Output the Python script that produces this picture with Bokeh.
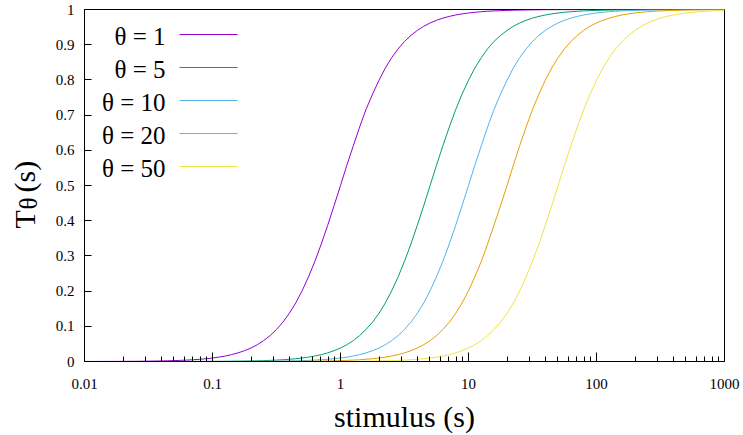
from bokeh.plotting import figure
from bokeh.layouts import row
from bokeh.models import (Range1d, FixedTicker, CustomJSTickFormatter, Label, Arrow)
from bokeh.embed import file_html
from bokeh.resources import INLINE
import math

# ---- data ----
stimulus = [0.01, 0.0112, 0.0126, 0.0141, 0.0158, 0.0178, 0.02, 0.0224, 0.0251, 0.0282,
            0.0316, 0.0355, 0.0398, 0.0447, 0.0501, 0.0562, 0.0631, 0.0708, 0.0794, 0.0891,
            0.1, 0.112, 0.126, 0.141, 0.158, 0.178, 0.2, 0.224, 0.251, 0.282,
            0.316, 0.355, 0.398, 0.447, 0.501, 0.562, 0.631, 0.708, 0.794, 0.891,
            1, 1.12, 1.26, 1.41, 1.58, 1.78, 2, 2.24, 2.51, 2.82,
            3.16, 3.55, 3.98, 4.47, 5.01, 5.62, 6.31, 7.08, 7.94, 8.91,
            10, 11.2, 12.6, 14.1, 15.8, 17.8, 20, 22.4, 25.1, 28.2,
            31.6, 35.5, 39.8, 44.7, 50.1, 56.2, 63.1, 70.8, 79.4, 89.1,
            100, 112, 126, 141, 158, 178, 200, 224, 251, 282,
            316, 355, 398, 447, 501, 562, 631, 708, 794, 891,
            1000]

t_theta1 = [0.0001, 0.0001, 0.0002, 0.0002, 0.0003, 0.0003, 0.0004, 0.0005, 0.0006, 0.0008,
            0.001, 0.0013, 0.0016, 0.002, 0.0025, 0.0032, 0.004, 0.005, 0.0063, 0.0079,
            0.0099, 0.0124, 0.0156, 0.0196, 0.0245, 0.0307, 0.0383, 0.0477, 0.0594, 0.0736,
            0.0909, 0.1118, 0.1368, 0.1663, 0.2008, 0.2403, 0.2847, 0.3339, 0.3869, 0.4427,
            0.5, 0.5573, 0.6131, 0.6661, 0.7153, 0.7597, 0.7992, 0.8337, 0.8632, 0.8882,
            0.9091, 0.9264, 0.9406, 0.9523, 0.9617, 0.9693, 0.9755, 0.9804, 0.9844, 0.9876,
            0.9901, 0.9921, 0.9937, 0.995, 0.996, 0.9968, 0.9975, 0.998, 0.9984, 0.9987,
            0.999, 0.9992, 0.9994, 0.9995, 0.9996, 0.9997, 0.9997, 0.9998, 0.9998, 0.9999,
            0.9999, 1, 1, 1, 1, 1, 1, 1, 1, 1,
            1, 1, 1, 1, 1, 1, 1, 1, 1, 1,
            1]

t_theta5 = [0, 0, 0, 0, 0, 0, 0, 0, 0, 0,
            0, 0, 0, 0, 0.0001, 0.0001, 0.0002, 0.0002, 0.0003, 0.0003,
            0.0004, 0.0005, 0.0006, 0.0008, 0.001, 0.0013, 0.0016, 0.002, 0.0025, 0.0032,
            0.004, 0.005, 0.0063, 0.0079, 0.0099, 0.0124, 0.0156, 0.0196, 0.0245, 0.0307,
            0.0383, 0.0477, 0.0594, 0.0736, 0.0909, 0.1118, 0.1368, 0.1663, 0.2008, 0.2403,
            0.2847, 0.3339, 0.3869, 0.4427, 0.5, 0.5573, 0.6131, 0.6661, 0.7153, 0.7597,
            0.7992, 0.8337, 0.8632, 0.8882, 0.9091, 0.9264, 0.9406, 0.9523, 0.9617, 0.9693,
            0.9755, 0.9804, 0.9844, 0.9876, 0.9901, 0.9921, 0.9937, 0.995, 0.996, 0.9968,
            0.9975, 0.998, 0.9984, 0.9987, 0.999, 0.9992, 0.9994, 0.9995, 0.9996, 0.9997,
            0.9997, 0.9998, 0.9998, 0.9999, 0.9999, 1, 1, 1, 1, 1,
            1]

t_theta10 = [0, 0, 0, 0, 0, 0, 0, 0, 0, 0,
             0, 0, 0, 0, 0, 0, 0, 0, 0, 0,
             0.0001, 0.0001, 0.0002, 0.0002, 0.0003, 0.0003, 0.0004, 0.0005, 0.0006, 0.0008,
             0.001, 0.0013, 0.0016, 0.002, 0.0025, 0.0032, 0.004, 0.005, 0.0063, 0.0079,
             0.0099, 0.0124, 0.0156, 0.0196, 0.0245, 0.0307, 0.0383, 0.0477, 0.0594, 0.0736,
             0.0909, 0.1118, 0.1368, 0.1663, 0.2008, 0.2403, 0.2847, 0.3339, 0.3869, 0.4427,
             0.5, 0.5573, 0.6131, 0.6661, 0.7153, 0.7597, 0.7992, 0.8337, 0.8632, 0.8882,
             0.9091, 0.9264, 0.9406, 0.9523, 0.9617, 0.9693, 0.9755, 0.9804, 0.9844, 0.9876,
             0.9901, 0.9921, 0.9937, 0.995, 0.996, 0.9968, 0.9975, 0.998, 0.9984, 0.9987,
             0.999, 0.9992, 0.9994, 0.9995, 0.9996, 0.9997, 0.9997, 0.9998, 0.9998, 0.9999,
             0.9999]

t_theta20 = [0, 0, 0, 0, 0, 0, 0, 0, 0, 0,
             0, 0, 0, 0, 0, 0, 0, 0, 0, 0,
             0, 0, 0, 0, 0, 0, 0.0001, 0.0001, 0.0002, 0.0002,
             0.0003, 0.0003, 0.0004, 0.0005, 0.0006, 0.0008, 0.001, 0.0013, 0.0016, 0.002,
             0.0025, 0.0032, 0.004, 0.005, 0.0063, 0.0079, 0.0099, 0.0124, 0.0156, 0.0196,
             0.0245, 0.0307, 0.0383, 0.0477, 0.0594, 0.0736, 0.0909, 0.1118, 0.1368, 0.1663,
             0.2008, 0.2403, 0.2847, 0.3339, 0.3869, 0.4427, 0.5, 0.5573, 0.6131, 0.6661,
             0.7153, 0.7597, 0.7992, 0.8337, 0.8632, 0.8882, 0.9091, 0.9264, 0.9406, 0.9523,
             0.9617, 0.9693, 0.9755, 0.9804, 0.9844, 0.9876, 0.9901, 0.9921, 0.9937, 0.995,
             0.996, 0.9968, 0.9975, 0.998, 0.9984, 0.9987, 0.999, 0.9992, 0.9994, 0.9995,
             0.9996]

t_theta50 = [0, 0, 0, 0, 0, 0, 0, 0, 0, 0,
             0, 0, 0, 0, 0, 0, 0, 0, 0, 0,
             0, 0, 0, 0, 0, 0, 0, 0, 0, 0,
             0, 0, 0, 0, 0.0001, 0.0001, 0.0002, 0.0002, 0.0003, 0.0003,
             0.0004, 0.0005, 0.0006, 0.0008, 0.001, 0.0013, 0.0016, 0.002, 0.0025, 0.0032,
             0.004, 0.005, 0.0063, 0.0079, 0.0099, 0.0124, 0.0156, 0.0196, 0.0245, 0.0307,
             0.0383, 0.0477, 0.0594, 0.0736, 0.0909, 0.1118, 0.1368, 0.1663, 0.2008, 0.2403,
             0.2847, 0.3339, 0.3869, 0.4427, 0.5, 0.5573, 0.6131, 0.6661, 0.7153, 0.7597,
             0.7992, 0.8337, 0.8632, 0.8882, 0.9091, 0.9264, 0.9406, 0.9523, 0.9617, 0.9693,
             0.9755, 0.9804, 0.9844, 0.9876, 0.9901, 0.9921, 0.9937, 0.995, 0.996, 0.9968,
             0.9975]

series_labels = ["θ = 1", "θ = 5", "θ = 10", "θ = 20", "θ = 50"]
series_values = [t_theta1, t_theta5, t_theta10, t_theta20, t_theta50]
series_colors = ["#9400d3", "#009e73", "#56b4e9", "#e69f00", "#f0e442"]

x_major_ticks = [0.01, 0.1, 1, 10, 100, 1000]
x_minor_ticks = [m * d for d in [0.01, 0.1, 1, 10, 100] for m in range(2, 10)]
y_ticks = [0, 0.1, 0.2, 0.3, 0.4, 0.5, 0.6, 0.7, 0.8, 0.9, 1]

x_title = "stimulus (s)"
y_title_parts = ["T", "θ", "(s)"]

SERIF = "Liberation Serif"
W, H = 743, 435
LEFT_W = 44
TOP_B, BOT_B = 9, 74

# ---- main plot ----
p = figure(width=W - LEFT_W, height=H, x_axis_type="log",
           x_range=Range1d(0.01, 1000), y_range=Range1d(0, 1),
           min_border_left=84 - LEFT_W, min_border_right=19, min_border_top=TOP_B,
           min_border_bottom=BOT_B,
           output_backend="svg", toolbar_location=None)

p.background_fill_color = "white"
p.border_fill_color = "white"
p.outline_line_color = "black"
p.outline_line_width = 1
p.grid.visible = False

for vals, col in zip(series_values, series_colors):
    p.line(stimulus, vals, line_color=col, line_width=1)

xa = p.xaxis[0]
xa.ticker = FixedTicker(ticks=x_major_ticks, minor_ticks=x_minor_ticks)
xa.formatter = CustomJSTickFormatter(code="return String(tick)")
xa.major_tick_in = 9
xa.major_tick_out = 0
xa.minor_tick_in = 5
xa.minor_tick_out = 0
xa.major_label_standoff = 17
xa.major_label_text_font = SERIF
xa.major_label_text_font_size = "15px"
xa.major_label_text_color = "black"
xa.axis_line_color = "black"
xa.major_tick_line_color = "black"
xa.minor_tick_line_color = "black"
xa.axis_label = x_title
xa.axis_label_text_font = SERIF
xa.axis_label_text_font_size = "30px"
xa.axis_label_text_font_style = "normal"
xa.axis_label_text_color = "black"
xa.axis_label_standoff = 8

ya = p.yaxis[0]
ya.ticker = FixedTicker(ticks=y_ticks, minor_ticks=[])
ya.formatter = CustomJSTickFormatter(code="return String(tick)")
ya.major_tick_in = 7
ya.major_tick_out = 0
ya.minor_tick_line_color = None
ya.major_label_standoff = 10
ya.major_label_text_font = SERIF
ya.major_label_text_font_size = "15px"
ya.major_label_text_color = "black"
ya.axis_line_color = "black"
ya.major_tick_line_color = "black"

# legend (label right-aligned, sample line to the right); screen units relative to frame
for i, (lab, col) in enumerate(zip(series_labels, series_colors)):
    p.add_layout(Label(x=81, y=325 - 33 * i, x_units="screen", y_units="screen",
                       text=lab, text_align="right", text_baseline="alphabetic",
                       text_font=SERIF, text_font_size="25px", text_color="black"))
    p.add_layout(Arrow(x_start=95, x_end=153, y_start=327 - 33 * i, y_end=327 - 33 * i,
                       start_units="screen", end_units="screen", start=None, end=None,
                       line_color=col, line_width=1))

# ---- narrow strip holding the rotated y-axis title (T with subscript theta) ----
yl = figure(width=LEFT_W, height=H, x_range=Range1d(0, 1), y_range=Range1d(0, 1),
            x_axis_location=None, y_axis_location=None,
            min_border_left=0, min_border_right=0,
            min_border_top=TOP_B, min_border_bottom=BOT_B,
            output_backend="svg", toolbar_location=None)
yl.outline_line_color = None
yl.background_fill_color = "white"
yl.border_fill_color = "white"
yl.grid.visible = False

FB = H - BOT_B  # frame bottom, in canvas pixels
yl.add_layout(Label(x=24, y=FB - 228, x_units="screen", y_units="screen", angle=math.pi / 2,
                    text=y_title_parts[0], text_align="left", text_baseline="alphabetic",
                    text_font=SERIF, text_font_size="30px", text_color="black"))
yl.add_layout(Label(x=28, y=FB - 209, x_units="screen", y_units="screen", angle=math.pi / 2,
                    text=y_title_parts[1], text_align="left", text_baseline="alphabetic",
                    text_font=SERIF, text_font_size="25px", text_color="black"))
yl.add_layout(Label(x=24, y=FB - 192, x_units="screen", y_units="screen", angle=math.pi / 2,
                    text=y_title_parts[2], text_align="left", text_baseline="alphabetic",
                    text_font=SERIF, text_font_size="30px", text_color="black"))

layout = row(yl, p, spacing=0)

open("out.html", "w").write(file_html(layout, INLINE))
